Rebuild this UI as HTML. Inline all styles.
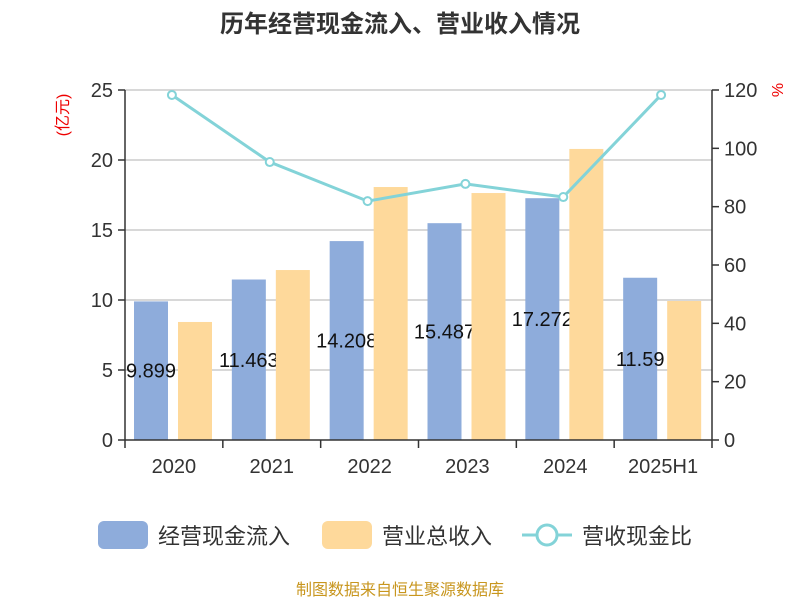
<!DOCTYPE html>
<html><head><meta charset="utf-8"><style>
body{margin:0;background:#fff;}
svg{display:block;font-family:"Liberation Sans","Noto Sans CJK SC",sans-serif;}
</style></head><body>
<svg id="chart" width="800" height="600">
<text x="400" y="32" text-anchor="middle" font-size="24" font-weight="bold" fill="#333">历年经营现金流入、营业收入情况</text>
<text transform="translate(68,115) rotate(-90)" text-anchor="middle" font-size="16" fill="#e00">(亿元)</text>
<text transform="translate(783,90) rotate(-90)" text-anchor="middle" font-size="16" fill="#e00">%</text>
<g id="grid"></g><g id="bars"></g><g id="labels"></g><g id="line"></g><g id="axes"></g>
<g>
<rect x="98" y="521" width="50" height="28" rx="6" fill="#8eacdb"/>
<text x="158" y="544" font-size="22" fill="#333">经营现金流入</text>
<rect x="322" y="521" width="50" height="28" rx="6" fill="#fed99b"/>
<text x="382" y="544" font-size="22" fill="#333">营业总收入</text>
<line x1="522" y1="535" x2="572" y2="535" stroke="#83d3d8" stroke-width="3"/>
<circle cx="547" cy="535" r="10" fill="#fff" stroke="#83d3d8" stroke-width="3"/>
<text x="582" y="544" font-size="22" fill="#333">营收现金比</text>
</g>
<text x="400" y="595" text-anchor="middle" font-size="16" fill="#c8961e">制图数据来自恒生聚源数据库</text>
</svg>
<script>
const categories=["2020","2021","2022","2023","2024","2025H1"];
const cashInflow=[9.899,11.463,14.208,15.487,17.272,11.59];
const cashLabels=["9.899","11.463","14.208","15.487","17.272","11.59"];
const revenue=[8.43,12.14,18.07,17.64,20.79,9.93];
const ratio=[118.3,95.3,81.9,87.8,83.3,118.3];
const leftTicks=[0,5,10,15,20,25];
const rightTicks=[0,20,40,60,80,100,120];
const NS="http://www.w3.org/2000/svg";
const L=125,R=712,T=90,B=440;
const yL=v=>B-(v/25)*(B-T);
const yR=v=>B-(v/120)*(B-T);
const bw=(R-L)/categories.length;
function mk(tag,attrs,parent){const e=document.createElementNS(NS,tag);for(const k in attrs)e.setAttribute(k,attrs[k]);document.getElementById(parent).appendChild(e);return e;}
leftTicks.forEach(t=>{
 if(t>0){const g=mk('line',{x1:L,x2:R,y1:yL(t),y2:yL(t),stroke:'#ccc','stroke-width':1.5},'grid');
 
 }
 const tk=mk('line',{x1:L-7,x2:L,y1:yL(t),y2:yL(t),stroke:'#333','stroke-width':1.5},'axes');
 
 
 const tx=mk('text',{x:L-12,y:yL(t)+7,'text-anchor':'end','font-size':20,fill:'#333'},'axes');
 tx.textContent=t;
 
 
});
rightTicks.forEach(t=>{
 const tk=mk('line',{x1:R,x2:R+7,y1:yR(t),y2:yR(t),stroke:'#333','stroke-width':1.5},'axes');
 
 
 const tx=mk('text',{x:R+12,y:yR(t)+7,'font-size':20,fill:'#333'},'axes');
 tx.textContent=t;
 
 
});
let a=mk('line',{x1:L,x2:L,y1:T,y2:B,stroke:'#333','stroke-width':1.5},'axes');


a=mk('line',{x1:R,x2:R,y1:T,y2:B,stroke:'#333','stroke-width':1.5},'axes');


a=mk('line',{x1:L,x2:R,y1:B,y2:B,stroke:'#333','stroke-width':1.5},'axes');


for(let i=0;i<=categories.length;i++){
 const tk=mk('line',{x1:L+i*bw,x2:L+i*bw,y1:B,y2:B+8,stroke:'#333','stroke-width':1.5},'axes');
 
 
}
categories.forEach((c,i)=>{
 const x0=L+i*bw;
 const b1=mk('rect',{x:x0+9,y:yL(cashInflow[i]),width:34,height:B-yL(cashInflow[i]),fill:'#8eacdb'},'bars');
 
 
 const lb=mk('text',{x:x0+26,y:(B+yL(cashInflow[i]))/2+7,'text-anchor':'middle','font-size':20,fill:'#111'},'labels');
 lb.textContent=cashLabels[i];
 
 
 const b2=mk('rect',{x:x0+53,y:yL(revenue[i]),width:34,height:B-yL(revenue[i]),fill:'#fed99b'},'labels');
 
 
 const tx=mk('text',{x:x0+bw/2,y:B+33,'text-anchor':'middle','font-size':20,fill:'#333'},'axes');
 tx.textContent=c;
 
 
});
const pts=ratio.map((v,i)=>[L+i*bw+bw/2-2,yR(v)]);
const pl=mk('polyline',{points:pts.map(p=>p.join(',')).join(' '),fill:'none',stroke:'#83d3d8','stroke-width':3},'line');


pts.forEach((p,i)=>{
 const c=mk('circle',{cx:p[0],cy:p[1],r:4,fill:'#fff',stroke:'#83d3d8','stroke-width':2},'line');
 
 
});
</script>
</body></html>
